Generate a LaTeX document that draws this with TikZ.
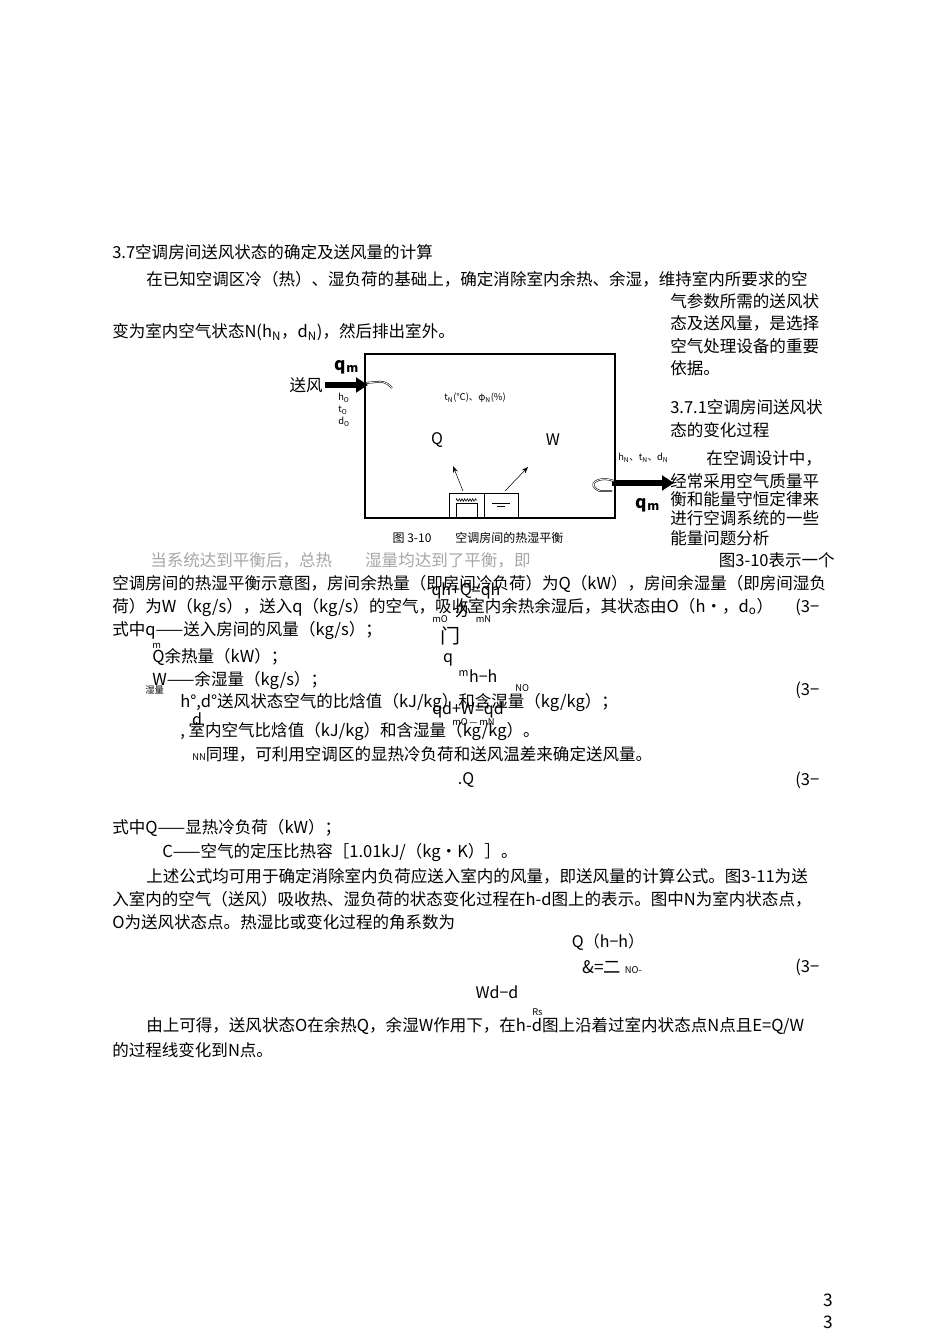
\documentclass[tikz,border=0pt]{standalone}
\usepackage{fontspec}
\setmainfont{Noto Sans CJK SC}
\usetikzlibrary{arrows.meta,decorations.pathmorphing}
\tikzset{
  txt/.style={anchor=west,inner sep=0pt,font=\fontsize{12.4}{14}\selectfont},
  sm/.style={anchor=west,inner sep=0pt,font=\fontsize{7}{8}\selectfont},
  eq/.style={inner sep=0pt,font=\fontsize{12}{13}\selectfont\itshape},
  flow/.style={-{Triangle[length=9pt,width=11pt]},line width=4.5pt},
  heat/.style={-{Stealth[length=5pt]},thin}
}
\begin{document}
\begin{tikzpicture}[x=0.75pt,y=-0.75pt]
  \useasboundingbox (0,0) rectangle (950,1344);
  % body text
  \node[txt] (h1) at (112,252) {3.7空调房间送风状态的确定及送风量的计算};
  \node[txt] (p1) at (146,279) {在已知空调区冷（热）、湿负荷的基础上，确定消除室内余热、余湿，维持室内所要求的空};
  \node[txt] (r1) at (670,301) {气参数所需的送风状};
  \node[txt] (r2) at (670,323) {态及送风量，是选择};
  \node[txt] (p2) at (112,332) {变为室内空气状态N(h\textsubscript{N}，d\textsubscript{N})，然后排出室外。};
  \node[txt] (r3) at (670,346) {空气处理设备的重要};
  \node[txt] (r4) at (670,368) {依据。};
  \node[txt] (r5) at (670,407) {3.7.1空调房间送风状};
  \node[txt] (r6) at (670,430) {态的变化过程};
  \node[txt] (r7) at (706,458) {在空调设计中，};
  \node[txt] (r8) at (670,481) {经常采用空气质量平};
  \node[txt] (r9) at (670,499) {衡和能量守恒定律来};
  \node[txt] (r10) at (670,518) {进行空调系统的一些};
  \node[txt] (r11) at (670,538) {能量问题分析};
  % figure 3-10
  \draw[thick] (365,354) rectangle (615,518);
  \coordinate (inA) at (325,385);
  \coordinate (inB) at (368,385);
  \draw[flow] (inA) -- (inB);
  \node[txt,anchor=east,font=\fontsize{12.4}{14}\selectfont] (sf) at (323,385) {送风};
  \node[eq,font=\fontsize{13}{14}\selectfont\bfseries] (qin) at (347,367) {q\textsubscript{m}};
  \node[sm] (ho) at (338,398) {\itshape h\textsubscript{O}};
  \node[sm] (to) at (338,410) {\itshape t\textsubscript{O}};
  \node[sm] (do) at (338,422) {\itshape d\textsubscript{O}};
  \draw[double,thin] (366,383) .. controls (385,381) .. (392,388);
  \node[sm] (tn) at (444,398) {\itshape t\textsubscript{N}(℃)、φ\textsubscript{N}(\%)};
  \node[eq] (Q) at (437,440) {Q};
  \node[eq] (W) at (553,440) {W};
  \draw (449,493) rectangle (518,518);
  \draw (484,493) -- (484,518);
  \draw (456,518) -- (456,503) -- (477,503) -- (477,518);
  \draw[decorate,decoration={zigzag,segment length=2pt,amplitude=1pt}] (456,500) -- (477,500);
  \draw (492,503) -- (510,503);
  \draw (497,506) -- (505,506);
  \coordinate (src1) at (463,491);
  \coordinate (src2) at (505,491);
  \draw[heat] (src1) -- (453,466);
  \draw[heat] (src2) -- (528,467);
  \coordinate (outA) at (612,483);
  \coordinate (outB) at (674,483);
  \draw[flow] (outA) -- (outB);
  \draw[double,thin] (614,481) .. controls (598,475) and (585,485) .. (600,491) -- (612,491);
  \node[sm] (hn) at (618,458) {\itshape h\textsubscript{N}、t\textsubscript{N}、d\textsubscript{N}};
  \node[eq,font=\fontsize{13}{14}\selectfont\bfseries] (qout) at (648,505) {q\textsubscript{m}};
  \node[txt,anchor=center,font=\fontsize{9}{10}\selectfont] (cap) at (478,538) {图 3-10\quad\quad 空调房间的热湿平衡};
  % text after the figure
  \node[txt,text=gray!70] (p3) at (150,560) {当系统达到平衡后，总热\quad\quad 湿量均达到了平衡，即};
  \node[txt,anchor=east] (p3r) at (835,560) {图3-10表示一个};
  \node[txt] (p4) at (112,584) {空调房间的热湿平衡示意图，房间余热量（即房间冷负荷）为Q（kW），房间余湿量（即房间湿负};
  \node[txt] (p5) at (112,607) {荷）为W（kg/s），送入q（kg/s）的空气，吸收室内余热余湿后，其状态由O（h·，d\textsubscript{o}）};
  \node[eq,font=\fontsize{12}{13}\selectfont] (e1) at (466,591) {qh+Q=qh};
  \node[sm] (e1s) at (432,619) {\itshape mO\quad\quad\quad mN};
  \node[eq] (e1b) at (463,610) {办};
  \node[txt] (n1) at (795,607) {(3−};
  \node[txt] (p6) at (112,630) {式中q——送入房间的风量（kg/s）；};
  \node[eq,font=\fontsize{15}{16}\selectfont] (e2) at (450,636) {门};
  \node[sm] (m1) at (152,646) {m};
  \node[txt] (p7) at (152,657) {Q余热量（kW）；};
  \node[eq] (q1) at (448,660) {q};
  \node[eq,font=\fontsize{12}{13}\selectfont\upshape] (e3) at (478,676) {\textsuperscript{m}h−h};
  \node[txt] (p8) at (152,680) {W——余湿量（kg/s）；};
  \node[sm] (sl) at (145,690) {湿量};
  \node[sm] (no) at (515,688) {NO};
  \node[txt] (n2) at (795,690) {(3−};
  \node[txt] (p9) at (180,702) {\itshape h°,d°\upshape 送风状态空气的比焓值（kJ/kg）和含湿量（kg/kg）；};
  \node[eq] (e4) at (468,710) {qd+W=qd};
  \node[eq] (dd) at (197,719) {d};
  \node[sm] (e4s) at (452,722) {mO\,—\,mN};
  \node[txt] (p10) at (180,731) {,\ 室内空气比焓值（kJ/kg）和含湿量（kg/kg）。};
  \node[txt] (p11) at (192,754) {\fontsize{7}{8}\selectfont NN\fontsize{12.4}{14}\selectfont 同理，可利用空调区的显热冷负荷和送风温差来确定送风量。};
  \node[eq,font=\fontsize{12}{13}\selectfont] (e5) at (466,780) {.Q};
  \node[txt] (n3) at (795,780) {(3−};
  \node[txt] (p12) at (112,828) {式中Q——显热冷负荷（kW）；};
  \node[txt] (p13) at (162,852) {C——空气的定压比热容［1.01kJ/（kg·K）］。};
  \node[txt] (p14) at (146,876) {上述公式均可用于确定消除室内负荷应送入室内的风量，即送风量的计算公式。图3-11为送};
  \node[txt] (p15) at (112,899) {入室内的空气（送风）吸收热、湿负荷的状态变化过程在h-d图上的表示。图中N为室内状态点，};
  \node[txt] (p16) at (112,922) {O为送风状态点。热湿比或变化过程的角系数为};
  \node[eq,font=\fontsize{12}{13}\selectfont] (e6) at (608,942) {\upshape Q（\itshape h−h\upshape ）};
  \node[eq,font=\fontsize{13}{14}\selectfont] (e7) at (612,967) {\&=二 \fontsize{7}{8}\selectfont\upshape NO-};
  \node[txt] (n4) at (795,967) {(3−};
  \node[eq,font=\fontsize{12}{13}\selectfont] (e8) at (497,992) {\upshape W\itshape d−d};
  \node[sm] (rs) at (532,1012) {\itshape Rs};
  \node[txt] (p17) at (146,1026) {由上可得，送风状态O在余热Q，余湿W作用下，在h-d图上沿着过室内状态点N点且E=\textit{Q/W}};
  \node[txt] (p18) at (112,1050) {的过程线变化到N点。};
  % page number
  \node[txt,font=\fontsize{13}{14}\selectfont] (pg1) at (823,1300) {3};
  \node[txt,font=\fontsize{13}{14}\selectfont] (pg2) at (823,1322) {3};
\end{tikzpicture}
\end{document}
